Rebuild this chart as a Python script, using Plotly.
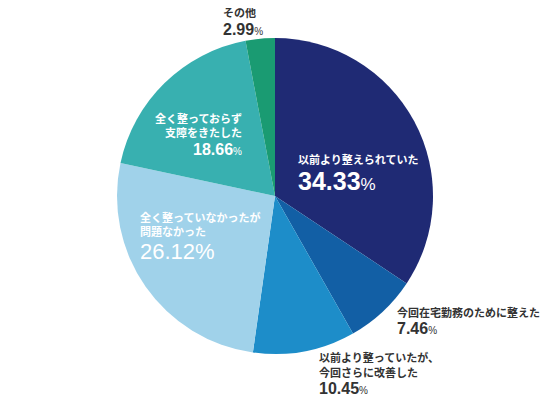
import plotly.graph_objects as go

categories = ["以前より整えられていた", "今回在宅勤務のために整えた", "以前より整っていたが、今回さらに改善した",
              "全く整っていなかったが問題なかった", "全く整っておらず支障をきたした", "その他"]
values = [34.33, 7.46, 10.45, 26.12, 18.66, 2.99]
colors = ["#1f2a74", "#125fa5", "#1d8dc9", "#a0d2ea", "#38b0b0", "#1a9b72"]
label_lines = [["以前より整えられていた"], ["今回在宅勤務のために整えた"], ["以前より整っていたが、", "今回さらに改善した"],
               ["全く整っていなかったが", "問題なかった"], ["全く整っておらず", "支障をきたした"], ["その他"]]

# page body has an 8px margin: shrink figure so it fits the 550x398 window
OFF = 8
W, H = 550 - OFF, 398 - OFF
cx, cy, r = 275 - OFF, 196 - OFF, 158

fig = go.Figure(go.Pie(
    labels=categories, values=values, sort=False, direction="clockwise", rotation=0,
    marker=dict(colors=colors, line=dict(width=0)), textinfo="none", hoverinfo="label+percent",
    domain=dict(x=[(cx - r) / W, (cx + r) / W], y=[(H - cy - r) / H, (H - cy + r) / H]),
    showlegend=False,
))

FONT = "Liberation Sans, Noto Sans CJK JP, sans-serif"
# label styling: (x px, y px of first line, anchor, color, label size, number size, pct size, bold number)
styles = [
    (296, 160, "left", "white", 11, 25, 17, True),
    (395, 312, "left", "#333333", 11, 16, 10, True),
    (317, 357, "left", "#333333", 11, 16, 10, True),
    (138, 217, "left", "white", 11, 22, 22, False),
    (244, 118, "right", "white", 11, 16, 10, True),
    (221, 13, "left", "#333333", 11, 16, 10, True),
]

for lines, val, st in zip(label_lines, values, styles):
    x, y, anchor, col, ls, ns, ps, bold = st
    x -= OFF
    y -= OFF
    line_h = ls + 4
    for i, ln in enumerate(lines):
        fig.add_annotation(x=x / W, y=1 - (y + i * line_h) / H, xref="paper", yref="paper",
                           xanchor=anchor, yanchor="middle", showarrow=False,
                           text=f"<b>{ln}</b>", font=dict(family=FONT, size=ls, color=col))
    ny = y + (len(lines) - 1) * line_h + 8 + ns * 0.5
    num = f"{val:.2f}"
    numtxt = f"<b>{num}</b>" if bold else num
    pct = f"<span style='font-size:{ps}px'>%</span>"
    fig.add_annotation(x=x / W, y=1 - ny / H, xref="paper", yref="paper",
                       xanchor=anchor, yanchor="middle", showarrow=False,
                       text=f"{numtxt}{pct}", font=dict(family=FONT, size=ns, color=col))

fig.update_layout(width=W, height=H, margin=dict(l=0, r=0, t=0, b=0),
                  paper_bgcolor="white", plot_bgcolor="white")
fig.write_html("out.html")
